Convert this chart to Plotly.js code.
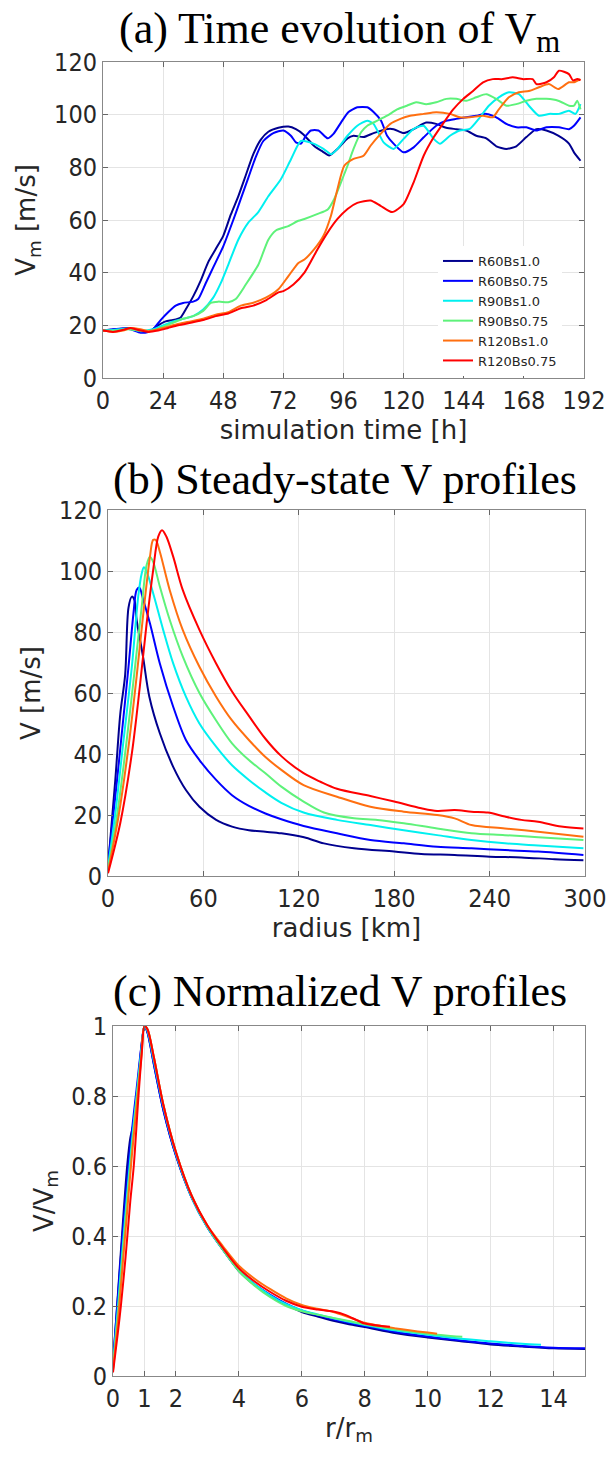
<!DOCTYPE html>
<html>
<head>
<meta charset="utf-8">
<script src="https://cdn.plot.ly/plotly-3.0.1.min.js"></script>
<style>html,body{margin:0;padding:0;background:#fff;}#chart{width:610px;height:1459px;}</style>
</head>
<body>
<div id="chart"></div>
<script>
// ---------- series names & colours ----------
const seriesNames = ['R60Bs1.0','R60Bs0.75','R90Bs1.0','R90Bs0.75','R120Bs1.0','R120Bs0.75'];
const seriesColors = ['#00008f','#0000ff','#00f0f0','#5ef27a','#ff6f10','#ff0000'];

// ---------- panel (a): time evolution of Vm ----------
const tA_R60Bs1_0 = [0,3,6,10,13,16,19,22,25,28,31,33,36,39,42,45,48,51,54,57,60,63,66,70,74,77,80,84.4,87.7,90.3,93.6,97.6,100,104,108,113,116,120,124,129,133,137,141,145,149,153,157,161,165,169,173,177,181.7,186,188,190.6];
const vA_R60Bs1_0 = [18,18.3,18.5,19,18.2,17.5,18,20,21.5,22,23,26,31,37,44,49,54,62,69,77,85,90.5,93.5,95,95.5,94.5,92.5,88,86,84.5,87,91,92,91.5,93,94.5,94.5,93,94.5,97,96.5,95,94.5,94,92,91,88,87,88,91.5,94.5,94,92,89,85.7,82.5];
const tA_R60Bs0_75 = [0,4,8,11,15,18,20,23,26,29,32,36,38,41,44,48,52,55,58,61,64,68,72,75,77,79,81,83,86,89.7,92,95,98,101.5,105.5,108,111,113.4,116,120,124,128,133,137,141,145,149,153,157,161,165,169,173,177,182,186,188,190.6];
const vA_R60Bs0_75 = [18,18.5,18.8,18.5,17.2,17.5,18.5,22,25,27.5,28.5,29,30,36,42,50,60,68,76,84,90,93,94,92,89.5,89,92,94,94,91,92.7,97,101,102.8,102.8,101,97.7,92,89,85.7,87.6,91.4,95.8,97.7,98.4,99,99.6,100.3,99,96.5,95.2,95.2,94,95.2,95.2,94.5,95.8,99];
const tA_R90Bs1_0 = [0,5,10,15,20,24,28,32,36,40,44,47,50,54,58,62,66,71,75,79,84,88,91,93.6,97.6,101.5,105.5,108,112,116,120,124,128,132,134.5,138.5,142.4,146.4,150,154,158,162,166,170,174,178,182,186,188.6,190.6];
const vA_R90Bs1_0 = [18,18.3,18.8,17.8,18.5,20,21.5,22.5,23.5,26,30.5,36,43,52.5,59,63,69,75.5,83,90,89,87,85,87,92,95.8,97.7,96.5,89.5,87,90.8,94.6,95.8,90.8,89,92,94,94.6,98.4,103.4,106.6,108.5,107.8,103.4,99.6,100.3,100.3,101.5,100.3,104];
const tA_R90Bs0_75 = [0,5,10,15,20,24,28,32,36,40,43,46,50,53,57,62,66,69,74,78,80.4,85.7,89.7,92.3,95,97.6,100,103,105.5,109.5,113.4,117.4,121.3,125,129,133,137,141,145,149,153,157,161,165,169,173,177,181.7,186,188,189.3,190.6];
const vA_R90Bs0_75 = [18,18,18.5,18,18,19.5,21,22.5,23.5,25.5,28.5,29,28.8,30,35.5,43,52.5,56,57.7,59.7,60.4,62.3,64,68,74.3,80.6,87,93.3,95.8,97.7,99.6,102,103.4,104.7,104,104.7,106,106,105.3,106.6,107.8,106,103.4,104,105.3,106,106,105.3,103.4,103.4,105.3,102];
const tA_R120Bs1_0 = [0,4,8,11,15,18,22,26,30,35,40,45,50,55,60,65,70,74,78,80.4,84.4,88,91,93.6,96.3,100,104,106.8,110.8,114.7,118.7,122.6,128,133,138.5,142.4,146.4,151.7,155.6,158,162,166,170,174,178,181.7,186,188,190.6];
const vA_R120Bs1_0 = [18,17.5,18,19,18.5,17.8,18.5,19.5,20.5,21.5,22.5,24,25,27.5,28.6,30.5,33.7,38.7,43.7,45,49,54,61.6,71.8,80.6,83.2,84.4,88.2,92.7,96.5,98.4,99.6,100.3,100.9,100.3,99,99,99.6,99,102,106.6,108.5,109,110.4,111.6,109.7,112.3,112.3,113.5];
const tA_R120Bs0_75 = [0,4,8,11,15,18,22,26,30,35,40,45,50,55,60,65,70,72,76,80.4,85.7,89.7,93.6,97.6,101.5,106.8,110.8,115.4,120,124,128,132,136,139.8,143.8,147.7,151.7,155.6,159.6,163.5,167.5,171.5,173,177,180,182,186,187.6,189.3,190.6];
const vA_R120Bs0_75 = [18,17.5,18.3,19,18,17.5,18,19,20,21,22,23.5,24.5,26.5,27.5,29.5,32.5,33,35.5,40,49,55.3,60.4,64.2,66.5,67.4,65.4,63,66,74.3,84.4,91.4,97,102,106,109,112.3,113.5,113.5,114.2,113.5,113.5,111.6,112.3,114.2,116.7,115.4,113,113.5,113];

// ---------- panel (b): steady-state V profiles ----------
const rB_R60Bs1_0 = [0,4.6,7.7,10.8,12.9,15,16.6,18,22,26,32.6,41,49,57.5,68,78,88.6,99,109,123.3,135.8,154.7,180,197,218,240,260,281,299];
const vB_R60Bs1_0 = [3,31.5,53,66,88,91.6,90.5,84,72,58.8,46.8,35.8,28.2,22.7,18.4,16.2,15,14.5,14,12.7,10.7,9.1,8,7.2,6.9,6.3,6.1,5.5,5.2];
const rB_R60Bs0_75 = [0,4.6,8.7,12.9,16,18,19.7,22.2,26.4,32.6,41,49,57.5,68,78,88.6,99,109,123,144,165,186,207,228.6,249.6,270.5,299];
const vB_R60Bs0_75 = [4,26,46.8,68.6,86,93.8,94.6,90.5,82.8,69.7,55.5,44.6,38,31.5,26.5,23,20.5,18.6,16.4,14,11.8,10.7,9.6,9.1,8.5,8,6.9];
const rB_R90Bs1_0 = [0,4.6,9.8,15,19,21.2,22.6,24.3,28.4,34.7,41,49,57.5,68,78,88.6,99,109,123,144,165,186,207,228.6,249.6,270.5,299];
const vB_R90Bs1_0 = [3,20.5,44.6,68.6,91.6,99.2,101.2,99.8,92.7,80.7,69.7,58.8,50,42.4,36.3,31.5,27.4,24,20.8,18.4,16.7,15,13.4,11.8,10.7,10,9.1];
const rB_R90Bs0_75 = [0,5.6,11.8,17,21.2,24.3,26.4,28.4,32.6,38.8,47,57.5,68,78,88.6,99,109,123,135.8,154.7,169.5,186,207,228.6,249.6,270.5,299];
const vB_R90Bs0_75 = [2,19.5,44.6,68.6,88.3,102,104.7,103,94.9,84,72,60,51,43.5,38,33.7,29.3,24.4,20.8,18.9,18.4,17.3,15.6,14,13.4,12.7,11.8];
const rB_R120Bs1_0 = [0,6.6,12.9,18,22.2,26.4,28.4,30,32.6,38.8,47,57.5,68,78,88.6,99,109,123,144,165,186,207,218,228.6,249.6,270.5,299];
const vB_R120Bs1_0 = [1.4,19.5,42.4,65.4,86,104.7,110.2,110.2,106.3,93.8,80.7,68.6,58.8,51,44.6,39,34.8,29.8,26,22.7,21.1,20,18.9,16.7,15.6,14.5,12.9];
const rB_R120Bs0_75 = [0,7.7,15,20,24.3,28.4,31.6,34,36.7,41,47,57.5,68,78,88.6,99,109,123,133.6,144,165,180,197,207,218,228.6,239,249.6,260,270.5,285,299];
const vB_R120Bs0_75 = [0.9,17.3,40.2,62,82.8,100.3,111.3,113.4,111.3,104.7,93.8,80.7,69.7,60.5,52.5,45,39.3,33.7,30.9,28.6,26.2,24.4,22.2,21.3,21.6,21.1,20.8,19.5,18.4,17.8,16.2,15.6];

// ---------- panel (c): normalized V profiles ----------
const rC_R60Bs1_0 = [0,0.13,0.3,0.45,0.55,0.65,0.8,0.9,1,1.1,1.3,1.6,2,2.5,3,3.5,4,4.5,5,5.5,6,6.5,7,7.5,8,9,10,11,12,13,14,15];
const vC_R60Bs1_0 = [0.03,0.2,0.42,0.6,0.68,0.72,0.84,0.94,1,0.98,0.89,0.76,0.63,0.51,0.425,0.36,0.3,0.26,0.228,0.203,0.183,0.17,0.158,0.148,0.14,0.122,0.11,0.1,0.09,0.084,0.079,0.077];
const rC_R60Bs0_75 = [0,0.15,0.3,0.45,0.6,0.75,0.9,1,1.1,1.3,1.6,2,2.5,3,3.5,4,4.5,5,5.5,6,6.5,7,7.5,8,9,10,11,12,13,14,15];
const vC_R60Bs0_75 = [0.04,0.22,0.4,0.56,0.7,0.82,0.94,1,0.98,0.89,0.76,0.63,0.51,0.425,0.36,0.302,0.262,0.232,0.207,0.187,0.174,0.162,0.152,0.143,0.126,0.113,0.102,0.093,0.086,0.081,0.079];
const rC_R90Bs1_0 = [0,0.15,0.3,0.45,0.6,0.75,0.9,1,1.1,1.3,1.6,2,2.5,3,3.5,4,4.5,5,5.5,6,6.5,7,7.5,8,9,10,11,12,13,13.6];
const vC_R90Bs1_0 = [0.03,0.19,0.36,0.52,0.67,0.8,0.93,1,0.985,0.9,0.77,0.635,0.51,0.425,0.36,0.302,0.262,0.23,0.205,0.188,0.176,0.165,0.155,0.146,0.13,0.118,0.107,0.099,0.092,0.089];
const rC_R90Bs0_75 = [0,0.15,0.3,0.45,0.6,0.75,0.9,1,1.1,1.3,1.6,2,2.5,3,3.5,4,4.5,5,5.5,6,6.5,7,7.5,8,9,10,11.1];
const vC_R90Bs0_75 = [0.02,0.17,0.34,0.5,0.65,0.79,0.92,1,0.99,0.91,0.775,0.64,0.515,0.428,0.36,0.3,0.258,0.225,0.2,0.185,0.175,0.166,0.157,0.148,0.133,0.121,0.112];
const rC_R120Bs1_0 = [0,0.15,0.3,0.45,0.6,0.75,0.9,1,1.1,1.3,1.6,2,2.5,3,3.5,4,4.5,5,5.5,6,6.5,7,7.5,8,9,10,10.3];
const vC_R120Bs1_0 = [0.015,0.15,0.31,0.47,0.63,0.77,0.91,1,0.99,0.91,0.775,0.64,0.515,0.43,0.37,0.315,0.278,0.248,0.222,0.203,0.192,0.183,0.168,0.152,0.136,0.124,0.121];
const rC_R120Bs0_75 = [0,0.15,0.25,0.4,0.55,0.66,0.81,0.92,1,1.1,1.3,1.6,2,2.5,3,3.5,4,4.5,5,5.5,6,6.5,7,7.4,8,8.8];
const vC_R120Bs0_75 = [0.01,0.12,0.2,0.34,0.5,0.6,0.8,0.93,1,0.99,0.91,0.775,0.64,0.515,0.43,0.365,0.308,0.27,0.24,0.215,0.198,0.19,0.184,0.174,0.15,0.141];

const dataA = [[tA_R60Bs1_0,vA_R60Bs1_0],[tA_R60Bs0_75,vA_R60Bs0_75],[tA_R90Bs1_0,vA_R90Bs1_0],[tA_R90Bs0_75,vA_R90Bs0_75],[tA_R120Bs1_0,vA_R120Bs1_0],[tA_R120Bs0_75,vA_R120Bs0_75]];
const dataB = [[rB_R60Bs1_0,vB_R60Bs1_0],[rB_R60Bs0_75,vB_R60Bs0_75],[rB_R90Bs1_0,vB_R90Bs1_0],[rB_R90Bs0_75,vB_R90Bs0_75],[rB_R120Bs1_0,vB_R120Bs1_0],[rB_R120Bs0_75,vB_R120Bs0_75]];
const dataC = [[rC_R60Bs1_0,vC_R60Bs1_0],[rC_R60Bs0_75,vC_R60Bs0_75],[rC_R90Bs1_0,vC_R90Bs1_0],[rC_R90Bs0_75,vC_R90Bs0_75],[rC_R120Bs1_0,vC_R120Bs1_0],[rC_R120Bs0_75,vC_R120Bs0_75]];

const traces = [];
dataA.forEach((d,i)=>traces.push({x:d[0],y:d[1],type:'scatter',mode:'lines',name:seriesNames[i],line:{color:seriesColors[i],width:2,shape:'spline',smoothing:0.6},xaxis:'x',yaxis:'y',showlegend:true}));
dataB.forEach((d,i)=>traces.push({x:d[0],y:d[1],type:'scatter',mode:'lines',name:seriesNames[i],line:{color:seriesColors[i],width:2,shape:'spline',smoothing:0.9},xaxis:'x2',yaxis:'y2',showlegend:false}));
dataC.forEach((d,i)=>traces.push({x:d[0],y:d[1],type:'scatter',mode:'lines',name:seriesNames[i],line:{color:seriesColors[i],width:2,shape:'spline',smoothing:0.8},xaxis:'x3',yaxis:'y3',showlegend:false}));

const W=610,H=1459;
const tickFont = {family:'DejaVu Sans Condensed, DejaVu Sans, sans-serif', size:25, color:'#262626'};
const axTitleFont = {family:'DejaVu Sans, sans-serif', size:26, color:'#262626'};
function axis(range, tickvals, dom, anchor, title, standoff){
  return {range:range, tickvals:tickvals, domain:dom, anchor:anchor,
    ticks:'inside', ticklen:5, tickcolor:'#666', tickwidth:1,
    showline:true, linecolor:'#888', linewidth:1, mirror:'allticks',
    showgrid:true, gridcolor:'#e4e4e4', gridwidth:1, zeroline:false,
    tickfont:tickFont, fixedrange:true,
    title:{text:title, font:axTitleFont, standoff:standoff}};
}
const px = v=>v/W, py = v=>1-v/H;

const titleFont = {family:'Liberation Serif, serif', size:44, color:'#000'};
const layout = {
  width:W, height:H, margin:{l:0,r:0,t:0,b:0}, paper_bgcolor:'#fff', plot_bgcolor:'#fff',
  showlegend:true,
  legend:{x:px(438), y:py(246), xanchor:'left', yanchor:'top', bgcolor:'#fff', borderwidth:0,
    font:{family:'DejaVu Sans, sans-serif', size:13, color:'#262626'}, tracegroupgap:0, itemwidth:30},
  xaxis: axis([0,192],[0,24,48,72,96,120,144,168,192],[px(103),px(584)],'y','simulation time [h]',0),
  yaxis: axis([0,120],[0,20,40,60,80,100,120],[py(378),py(62)],'x','V<sub>m</sub> [m/s]',10),
  xaxis2: axis([0,300],[0,60,120,180,240,300],[px(108),px(585)],'y2','radius [km]',2),
  yaxis2: axis([0,120],[0,20,40,60,80,100,120],[py(876),py(510)],'x2','V [m/s]',10),
  xaxis3: axis([0,15],[0,1,2,4,6,8,10,12,14],[px(113),px(585)],'y3','r/r<sub>m</sub>',4),
  yaxis3: axis([0,1],[0,0.2,0.4,0.6,0.8,1],[py(1376),py(1026)],'x3','V/V<sub>m</sub>',10),
  annotations:[
    {text:'(a) Time evolution of V<sub>m</sub>', xref:'paper', yref:'paper', x:px(340), y:py(32), xanchor:'center', yanchor:'middle', showarrow:false, font:titleFont},
    {text:'(b) Steady-state V profiles', xref:'paper', yref:'paper', x:px(345.5), y:py(479), xanchor:'center', yanchor:'middle', showarrow:false, font:titleFont},
    {text:'(c) Normalized V profiles', xref:'paper', yref:'paper', x:px(340), y:py(992), xanchor:'center', yanchor:'middle', showarrow:false, font:titleFont}
  ]
};
layout.yaxis3.tickvals=[0,0.2,0.4,0.6,0.8,1];
layout.yaxis3.ticktext=['0','0.2','0.4','0.6','0.8','1'];
Plotly.newPlot('chart', traces, layout, {displayModeBar:false, staticPlot:true});
</script>
</body>
</html>
